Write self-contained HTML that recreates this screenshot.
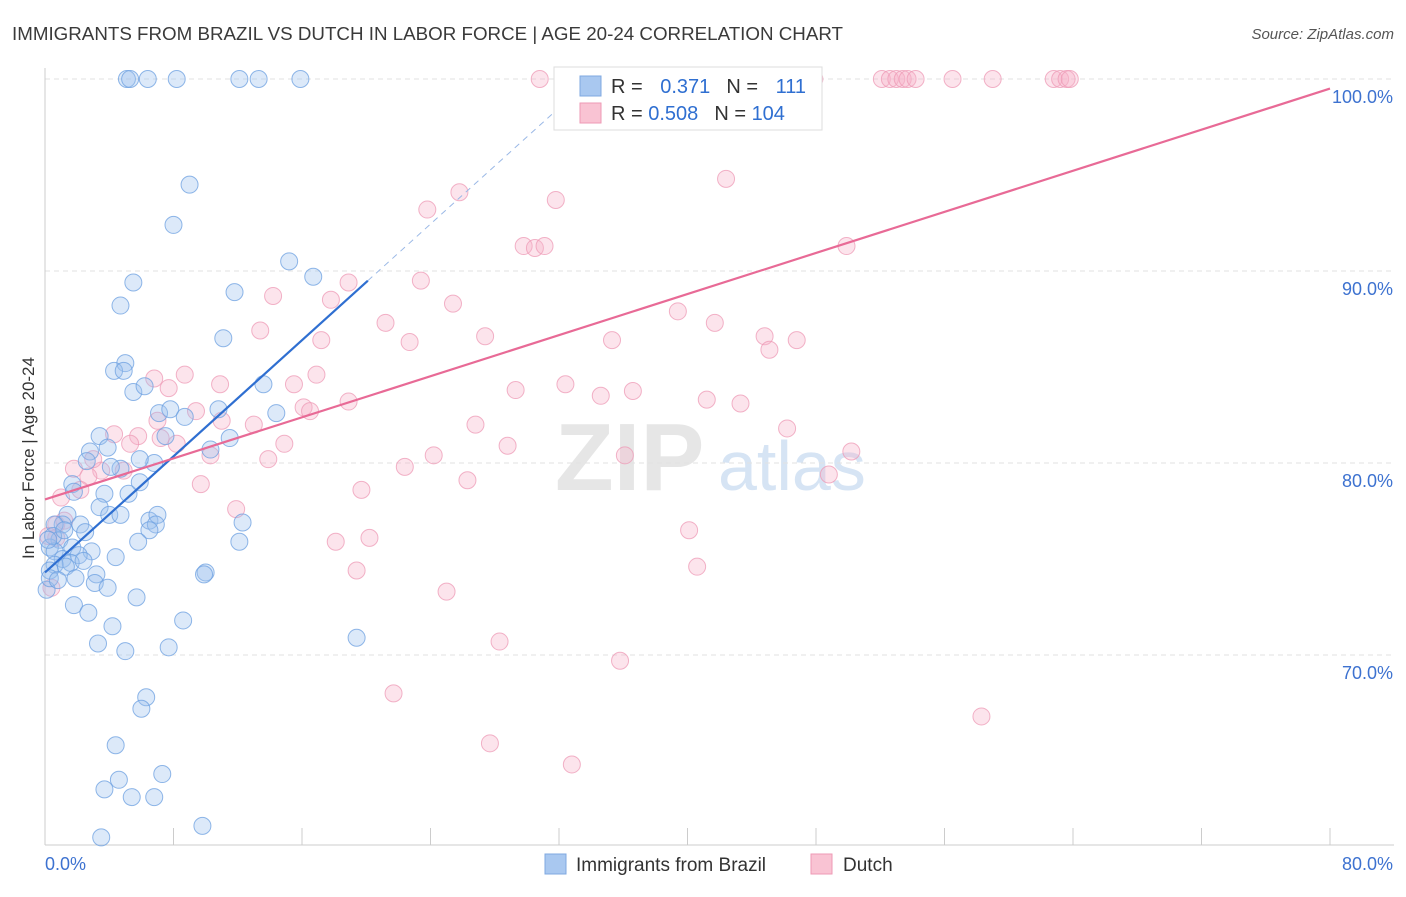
<!DOCTYPE html>
<html><head><meta charset="utf-8"><style>
body{margin:0;background:#fff;font-family:"Liberation Sans",sans-serif;}
svg text{font-family:"Liberation Sans",sans-serif;}
</style></head><body>
<svg id="chart" width="1406" height="892" viewBox="0 0 1406 892" xmlns="http://www.w3.org/2000/svg">
<text x="12" y="40" font-size="18" fill="#3a3a3a" textLength="831" lengthAdjust="spacingAndGlyphs">IMMIGRANTS FROM BRAZIL VS DUTCH IN LABOR FORCE | AGE 20-24 CORRELATION CHART</text>
<text x="1394" y="39" font-size="15" fill="#555" text-anchor="end" font-style="italic">Source: ZipAtlas.com</text>
<text x="555" y="490" font-size="96" fill="#e6e6e6" font-family="Liberation Serif" font-weight="bold">ZIP</text>
<text x="718" y="490" font-size="70" fill="#d6e4f4">atlas</text>
<g id="grid"></g><g id="axes"></g><g id="pts"></g><g id="lines"></g>
<text transform="translate(34,458) rotate(-90)" font-size="17" fill="#333" text-anchor="middle">In Labor Force | Age 20-24</text>
<g>
<rect x="554" y="67" width="268" height="63" fill="#fff" stroke="#ddd"/>
<rect x="580" y="76" width="21" height="20" fill="#a9c8f0" stroke="#7fa8e0"/>
<rect x="580" y="103" width="21" height="20" fill="#f9c3d3" stroke="#ee9ab5"/>
<text x="611" y="93" font-size="20" fill="#333">R = <tspan fill="#2f6fd1" dx="12">0.371</tspan><tspan dx="16" fill="#333">N = </tspan><tspan dx="12" fill="#2f6fd1">111</tspan></text>
<text x="611" y="120" font-size="20" fill="#333">R = <tspan fill="#2f6fd1">0.508</tspan><tspan dx="16" fill="#333">N = </tspan><tspan fill="#2f6fd1">104</tspan></text>
</g>
<g>
<rect x="545" y="854" width="21" height="20" fill="#a9c8f0" stroke="#7fa8e0"/>
<text x="576" y="871" font-size="19" fill="#333">Immigrants from Brazil</text>
<rect x="811" y="854" width="21" height="20" fill="#f9c3d3" stroke="#ee9ab5"/>
<text x="843" y="871" font-size="19" fill="#333">Dutch</text>
</g>
</svg>
<script>
const xTicks=[0,8,16,24,32,40,48,56,64,72,80];
const yTicks=[70,80,90,100];
const yTickLabels=["70.0%","80.0%","90.0%","100.0%"];
const xEndLabels=["0.0%","80.0%"];
const brazilX=[5.1,5.3,6.4,8.2,12.1,13.3,15.9,9.0,8.0,15.2,16.7,11.8,5.5,4.7,11.1,5.0,4.3,4.9,5.5,6.2,13.6,10.8,14.4,7.1,7.8,8.7,11.5,10.3,7.5,3.4,3.9,2.8,2.6,4.7,6.8,4.1,5.9,1.7,1.8,3.7,5.2,5.9,3.4,4.0,4.7,1.4,2.2,1.1,6.5,7.0,6.9,6.5,12.3,5.8,12.1,0.6,2.5,0.9,0.3,0.6,1.7,2.9,2.1,1.1,1.6,2.4,4.4,0.6,0.3,1.3,0.1,0.3,1.9,3.2,10.0,9.9,3.1,3.9,5.7,1.8,2.7,8.6,4.2,3.3,5.0,7.7,19.4,6.3,6.0,4.4,4.6,3.7,5.4,6.8,7.3,3.5,9.8,0.5,0.2,0.8,1.2];
const brazilY=[100,100,100,100,100,100,100,94.5,92.4,90.5,89.7,88.9,89.4,88.2,86.5,85.2,84.8,84.8,83.7,84.0,84.1,82.8,82.6,82.6,82.8,82.4,81.3,80.7,81.4,81.4,80.8,80.6,80.1,79.7,80.0,79.8,80.2,78.9,78.5,78.4,78.4,79.0,77.7,77.3,77.3,77.3,76.8,76.8,77.0,77.3,76.8,76.5,76.9,75.9,75.9,76.8,76.4,76.0,75.6,75.4,75.6,75.4,75.2,75.0,74.8,74.9,75.1,74.7,74.4,74.6,73.4,74.0,74.0,74.2,74.3,74.2,73.75,73.5,73.0,72.6,72.2,71.8,71.5,70.6,70.2,70.4,70.9,67.8,67.2,65.3,63.5,63.0,62.6,62.6,63.8,60.5,61.1,76.2,76.0,73.9,76.5];
const dutchX=[30.8,37.0,47.9,52.1,52.6,53.0,53.4,53.7,54.2,56.5,59.0,62.8,63.2,63.6,63.8,25.8,23.8,31.8,42.4,29.8,30.5,31.1,49.9,23.4,18.9,14.2,17.8,25.4,39.4,21.2,41.7,13.4,17.2,22.7,27.4,35.3,44.8,45.1,46.8,8.7,6.8,7.7,10.9,15.5,16.9,29.3,32.4,36.6,34.6,41.2,43.3,18.9,16.1,16.5,9.4,11.0,13.0,26.8,46.2,7.0,5.8,7.2,8.2,4.3,14.9,5.3,28.8,10.3,24.2,13.9,36.1,50.2,22.4,3.5,1.8,26.3,48.8,2.7,4.9,9.7,19.7,2.2,11.9,1.0,20.2,40.1,18.1,0.7,0.7,0.2,40.6,19.4,25.0,0.4,28.3,35.8,21.7,27.7,32.8,58.3,1.2,3.0];
const dutchY=[100,100,100,100,100,100,100,100,100,100,100,100,100,100,100,94.1,93.2,93.7,94.8,91.3,91.2,91.3,91.3,89.5,89.4,88.7,88.5,88.3,87.9,87.3,87.3,86.9,86.4,86.3,86.6,86.4,86.6,85.9,86.4,84.6,84.4,83.9,84.1,84.1,84.6,83.8,84.1,83.75,83.5,83.3,83.1,83.2,82.9,82.7,82.7,82.2,82.0,82.0,81.8,82.2,81.4,81.3,81.0,81.5,81.0,81.0,80.9,80.4,80.4,80.2,80.4,80.6,79.8,79.6,79.7,79.1,79.4,79.3,79.6,78.9,78.6,78.6,77.6,78.2,76.1,76.5,75.9,76.8,76.1,76.2,74.6,74.4,73.3,73.5,70.7,69.7,68.0,65.4,64.3,66.8,77.0,80.2];
const brazilTrend=[74.3,0.756]; // intercept, slope
const dutchTrend=[78.1,0.2675];

const NS="http://www.w3.org/2000/svg";
const X0=45,X1=1330,Y100=79,PX10=192;
const sx=v=>X0+(v/80)*(X1-X0);
const sy=v=>Y100+(100-v)/10*PX10;
function mk(tag,attrs,parent){const e=document.createElementNS(NS,tag);for(const k in attrs)e.setAttribute(k,attrs[k]);parent.appendChild(e);return e;}
const grid=document.getElementById('grid'),axes=document.getElementById('axes'),pts=document.getElementById('pts'),lines=document.getElementById('lines');
yTicks.forEach((t,i)=>{
 const g=mk('line',{x1:X0,x2:1394,y1:sy(t),y2:sy(t),stroke:'#e2e2e2','stroke-dasharray':'5,4'},grid);
 
 
 const l=mk('text',{x:1393,y:sy(t)+24,'font-size':18,fill:'#3d72d0','text-anchor':'end'},axes);
 l.textContent=yTickLabels[i];
 
 
});
const ax=mk('line',{x1:X0,x2:X0,y1:68,y2:845,stroke:'#ccc'},axes);


const bx=mk('line',{x1:X0,x2:1394,y1:845,y2:845,stroke:'#ccc'},axes);


xTicks.forEach(t=>{
 const tk=mk('line',{x1:sx(t),x2:sx(t),y1:828,y2:845,stroke:'#ccc'},axes);
 
 
});
const xl0=mk('text',{x:45,y:870,'font-size':18,fill:'#3d72d0'},axes);xl0.textContent=xEndLabels[0];


const xl1=mk('text',{x:1393,y:870,'font-size':18,fill:'#3d72d0','text-anchor':'end'},axes);xl1.textContent=xEndLabels[1];


function dots(xs,ys,fill,stroke,name){xs.forEach((v,i)=>{
 const c=mk('circle',{cx:sx(v),cy:sy(ys[i]),r:8.5,fill:fill,'fill-opacity':0.35,stroke:stroke,'stroke-opacity':0.75,'stroke-width':1},pts);
 
 
});}
dots(dutchX,dutchY,'#f7b3c8','#ee9ab5','dutch-point');
dots(brazilX,brazilY,'#9cc0ee','#6b9fe0','brazil-point');
const bEnd=20.1, bTop=(100-brazilTrend[0])/brazilTrend[1];
const bl=mk('line',{x1:sx(0),y1:sy(brazilTrend[0]),x2:sx(bEnd),y2:sy(brazilTrend[0]+brazilTrend[1]*bEnd),stroke:'#2f6fd1','stroke-width':2.2},lines);


const bd=mk('line',{x1:sx(bEnd),y1:sy(brazilTrend[0]+brazilTrend[1]*bEnd),x2:sx(bTop),y2:sy(100),stroke:'#9ab8e6','stroke-width':1,'stroke-dasharray':'6,5'},lines);


const dl=mk('line',{x1:sx(0),y1:sy(dutchTrend[0]),x2:sx(80),y2:sy(dutchTrend[0]+dutchTrend[1]*80),stroke:'#e86a96','stroke-width':2.2},lines);


</script>
</body></html>
